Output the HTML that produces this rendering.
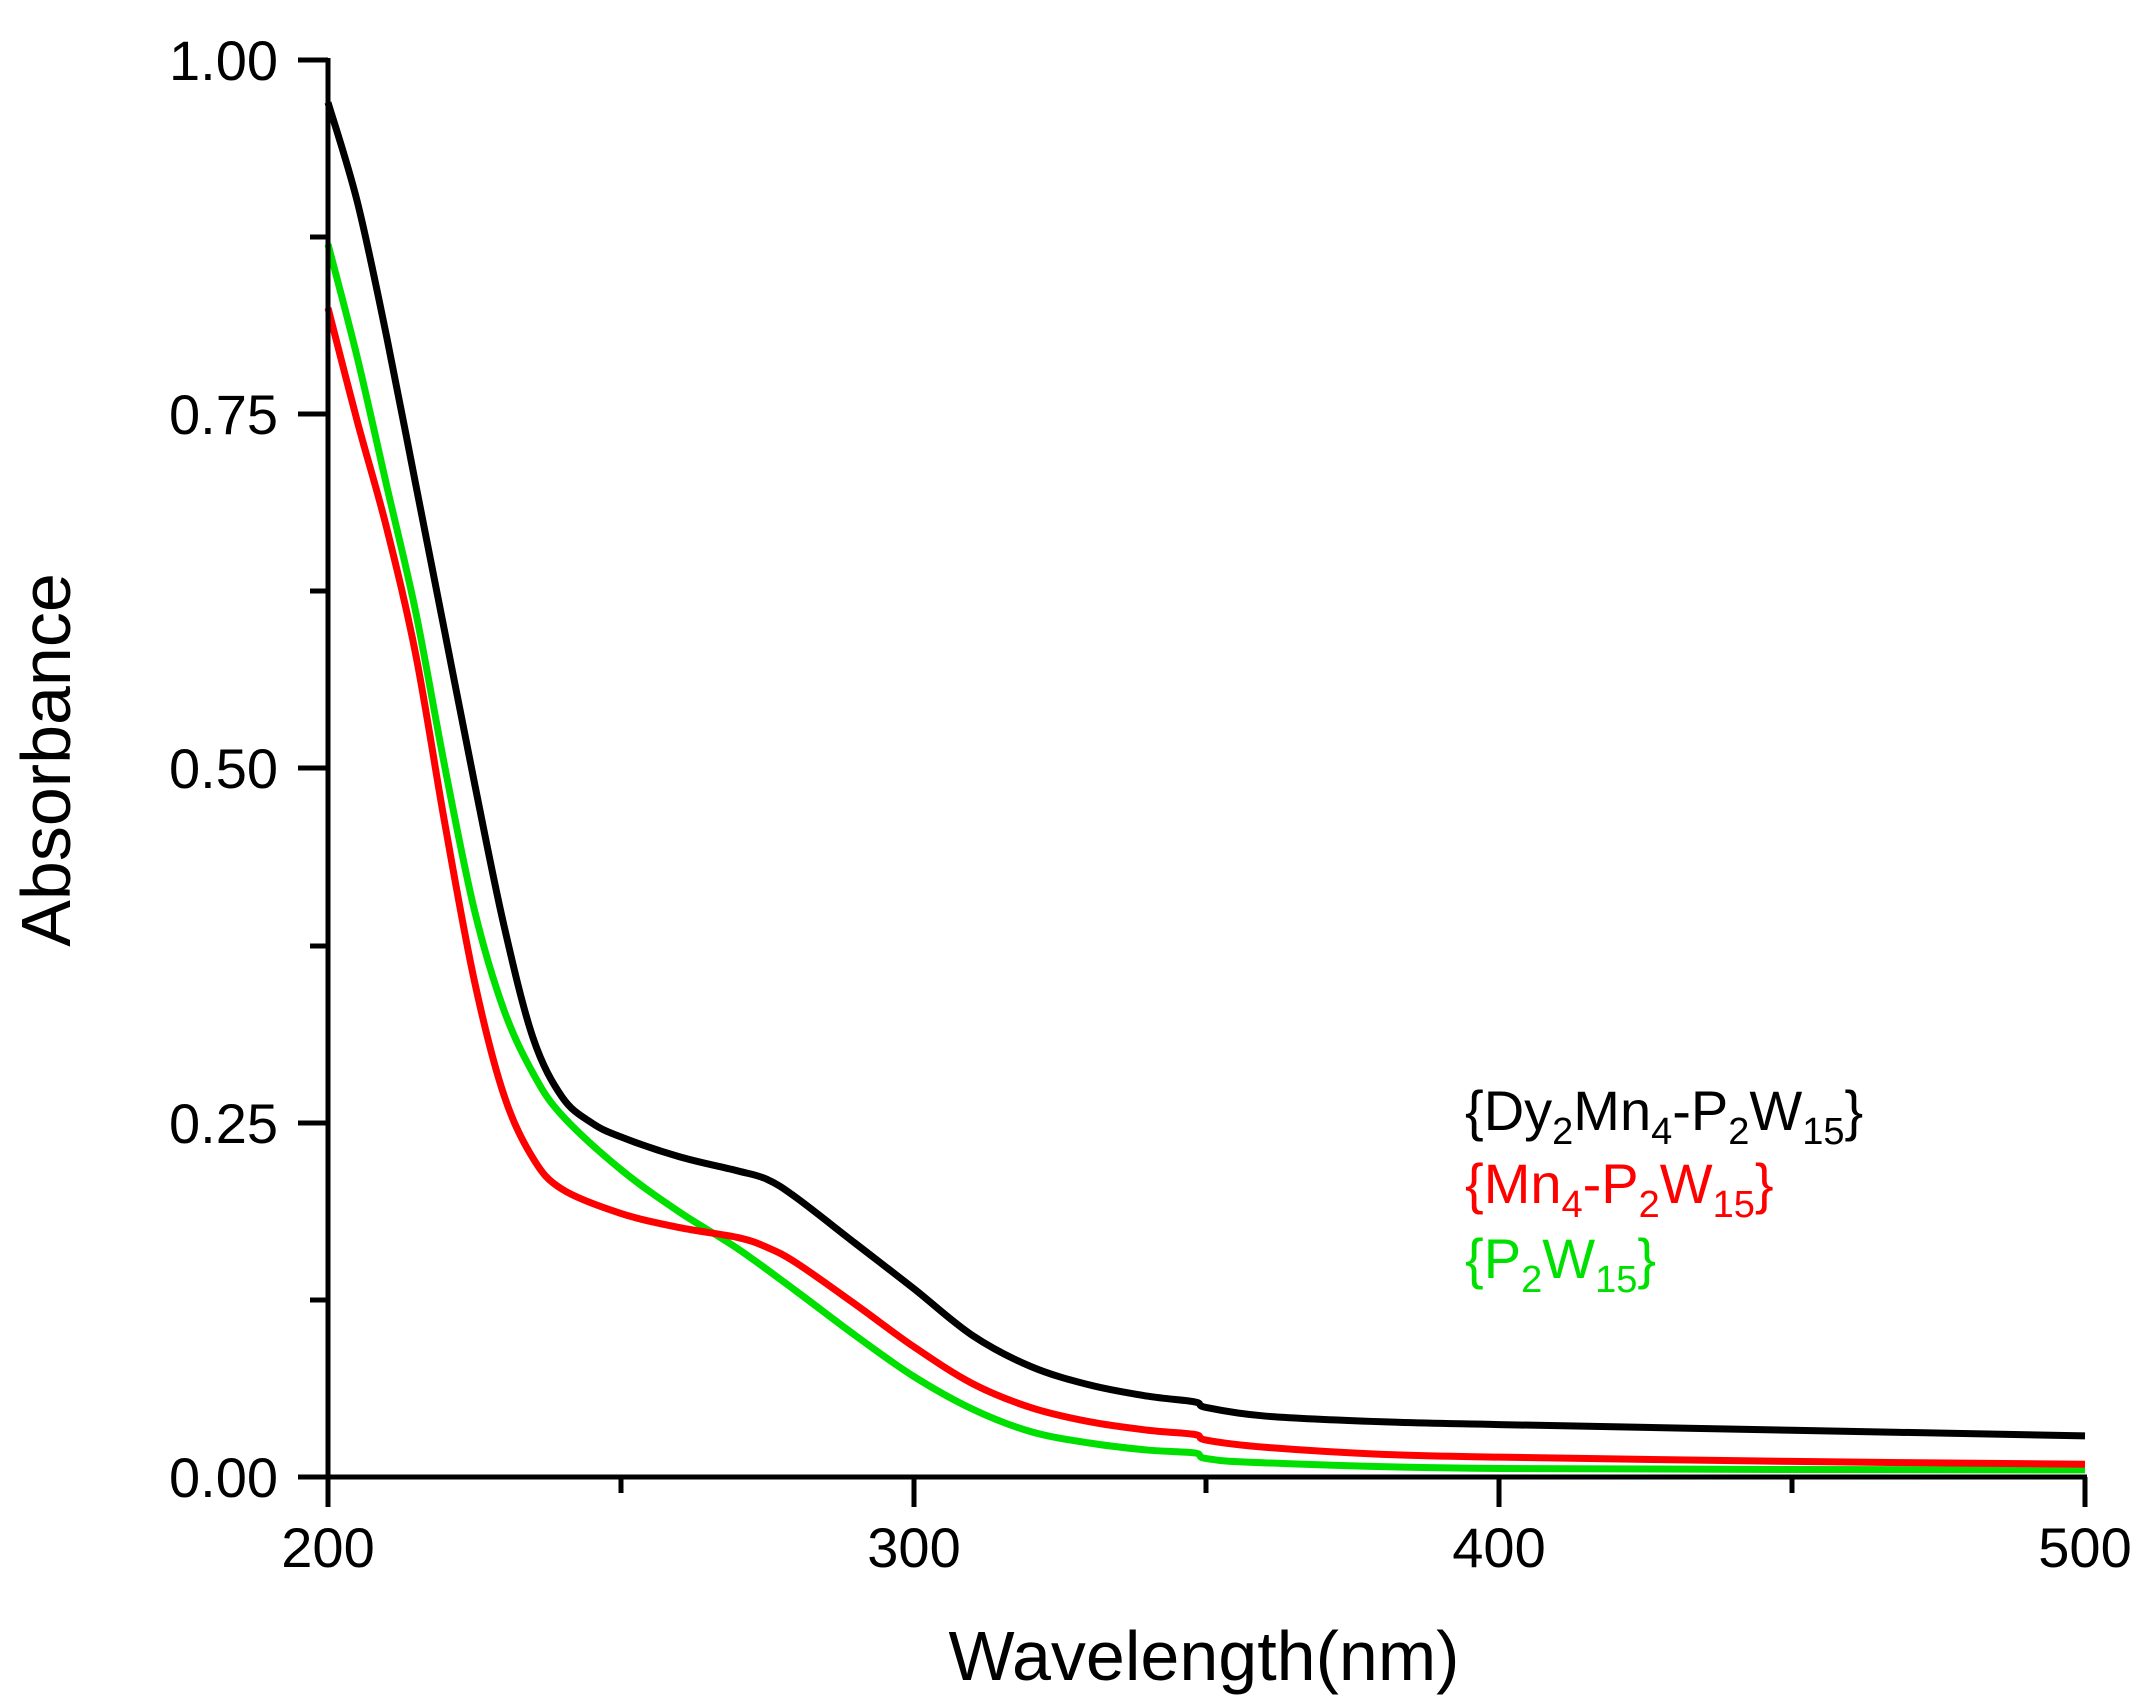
<!DOCTYPE html>
<html><head><meta charset="utf-8"><style>
html,body{margin:0;padding:0;background:#fff}
svg{display:block}
text{font-family:"Liberation Sans",Arial,sans-serif}
</style></head><body>
<svg id="s" width="2146" height="1703" viewBox="0 0 2146 1703" xmlns="http://www.w3.org/2000/svg">
<rect width="2146" height="1703" fill="#fff"/>
<g id="curves" fill="none" stroke-width="7" stroke-linejoin="round"></g>
<g stroke="#000" stroke-width="5" fill="none">
<line x1="328" y1="58" x2="328" y2="1479"/>
<line x1="326" y1="1477" x2="2087" y2="1477"/>
<line x1="298" y1="60" x2="328" y2="60"/>
<line x1="298" y1="414" x2="328" y2="414"/>
<line x1="298" y1="768" x2="328" y2="768"/>
<line x1="298" y1="1123" x2="328" y2="1123"/>
<line x1="298" y1="1477" x2="328" y2="1477"/>
<line x1="310" y1="237" x2="328" y2="237"/>
<line x1="310" y1="591" x2="328" y2="591"/>
<line x1="310" y1="946" x2="328" y2="946"/>
<line x1="310" y1="1300" x2="328" y2="1300"/>
<line x1="328" y1="1477" x2="328" y2="1507"/>
<line x1="914" y1="1477" x2="914" y2="1507"/>
<line x1="1499" y1="1477" x2="1499" y2="1507"/>
<line x1="2085" y1="1477" x2="2085" y2="1507"/>
<line x1="621" y1="1477" x2="621" y2="1493"/>
<line x1="1206" y1="1477" x2="1206" y2="1493"/>
<line x1="1792" y1="1477" x2="1792" y2="1493"/>
</g>
<g font-size="56" text-anchor="end" fill="#000">
<text x="278" y="80">1.00</text>
<text x="278" y="434">0.75</text>
<text x="278" y="788">0.50</text>
<text x="278" y="1143">0.25</text>
<text x="278" y="1497">0.00</text>
</g>
<g font-size="56" text-anchor="middle" fill="#000">
<text x="328" y="1567">200</text>
<text x="914" y="1567">300</text>
<text x="1499" y="1567">400</text>
<text x="2085" y="1567">500</text>
</g>
<text x="1204" y="1680" font-size="70" text-anchor="middle">Wavelength(nm)</text>
<text transform="translate(70,760) rotate(-90)" font-size="70" text-anchor="middle">Absorbance</text>
<g font-size="56">
<text x="1465" y="1130" fill="#000">{Dy<tspan font-size="38" dy="14">2</tspan><tspan dy="-14">Mn</tspan><tspan font-size="38" dy="14">4</tspan><tspan dy="-14">-P</tspan><tspan font-size="38" dy="14">2</tspan><tspan dy="-14">W</tspan><tspan font-size="38" dy="14">15</tspan><tspan dy="-14">}</tspan></text>
<text x="1465" y="1203" fill="#ff0000">{Mn<tspan font-size="38" dy="14">4</tspan><tspan dy="-14">-P</tspan><tspan font-size="38" dy="14">2</tspan><tspan dy="-14">W</tspan><tspan font-size="38" dy="14">15</tspan><tspan dy="-14">}</tspan></text>
<text x="1465" y="1278" fill="#00e000">{P<tspan font-size="38" dy="14">2</tspan><tspan dy="-14">W</tspan><tspan font-size="38" dy="14">15</tspan><tspan dy="-14">}</tspan></text>
</g>
</svg>
<script>
var D={
"#000":[[200,.97],[205,.90],[210,.805],[215,.70],[220,.595],[225,.49],[230,.39],[235,.31],[240,.268],[245,.25],[250,.24],[260,.226],[270,.216],[275,.21],[280,.197],[290,.165],[300,.133],[310,.1],[320,.078],[330,.065],[340,.057],[348,.053],[350,.049],[360,.043],[380,.039],[400,.037],[450,.033],[500,.029]],
"#ff0000":[[200,.825],[205,.745],[210,.67],[215,.58],[220,.46],[225,.35],[230,.27],[235,.225],[240,.203],[250,.186],[260,.176],[270,.169],[275,.162],[280,.151],[290,.122],[300,.092],[310,.066],[320,.049],[330,.039],[340,.033],[348,.03],[350,.026],[360,.021],[380,.016],[400,.014],[450,.011],[500,.009]],
"#00e000":[[200,.87],[205,.79],[210,.70],[215,.61],[220,.50],[225,.40],[230,.33],[235,.285],[240,.255],[250,.217],[260,.187],[270,.161],[280,.131],[290,.1],[300,.071],[310,.048],[320,.032],[330,.024],[340,.019],[348,.017],[350,.013],[360,.01],[400,.006],[500,.005]]};
function X(w){return 328+(w-200)*1757/300}
function Y(a){return 1477-1417*a}
var g=document.getElementById('curves');
["#00e000","#ff0000","#000"].forEach(function(c){
 var p=D[c].map(function(q){return [X(q[0]),Y(q[1])]});
 var d="M"+p[0][0]+","+p[0][1];
 for(var i=0;i<p.length-1;i++){
  var p0=p[i-1]||p[i],p1=p[i],p2=p[i+1],p3=p[i+2]||p2;
  var c1x=p1[0]+(p2[0]-p0[0])/6,c1y=p1[1]+(p2[1]-p0[1])/6;
  var c2x=p2[0]-(p3[0]-p1[0])/6,c2y=p2[1]-(p3[1]-p1[1])/6;
  d+=" C"+c1x+","+c1y+" "+c2x+","+c2y+" "+p2[0]+","+p2[1];
 }
 var e=document.createElementNS("http://www.w3.org/2000/svg","path");
 e.setAttribute("d",d);e.setAttribute("stroke",c);g.appendChild(e);
});
</script>
</body></html>
